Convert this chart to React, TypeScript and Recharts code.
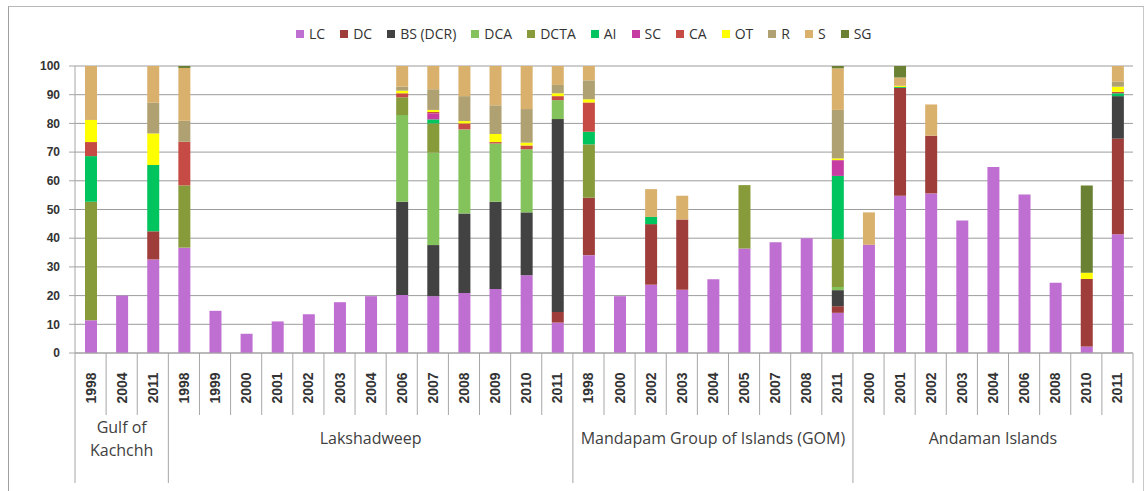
import React from 'react';
import { BarChart, Bar, XAxis, YAxis, CartesianGrid } from 'recharts';

const years = [
  '1998', '2004', '2011',
  '1998', '1999', '2000', '2001', '2002', '2003', '2004', '2006', '2007', '2008', '2009', '2010', '2011',
  '1998', '2000', '2002', '2003', '2004', '2005', '2007', '2008', '2011',
  '2000', '2001', '2002', '2003', '2004', '2006', '2008', '2010', '2011'
];

const groupNames = [['Gulf of', 'Kachchh'], ['Lakshadweep'], ['Mandapam Group of Islands (GOM)'], ['Andaman Islands']];
const groupSizes = [3, 13, 9, 9];

const LC = [11.4, 20, 32.6, 36.7, 14.7, 6.7, 11.0, 13.5, 17.7, 19.8, 20.2, 19.8, 20.9, 22.3, 27.1, 10.6, 34.1, 19.8, 23.8, 22, 25.7, 36.4, 38.6, 40, 14, 37.7, 54.8, 55.6, 46.2, 64.8, 55.2, 24.5, 2.3, 41.4];
const DC = [0, 0, 9.8, 0, 0, 0, 0, 0, 0, 0, 0, 0, 0, 0, 0, 3.7, 20, 0, 21.1, 24.5, 0, 0, 0, 0, 2.3, 0, 37.6, 20.1, 0, 0, 0, 0, 23.5, 33.3];
const BS = [0, 0, 0, 0, 0, 0, 0, 0, 0, 0, 32.5, 17.8, 27.7, 30.4, 21.9, 67.2, 0, 0, 0, 0, 0, 0, 0, 0, 5.6, 0, 0, 0, 0, 0, 0, 0, 0, 14.8];
const DCA = [0, 0, 0, 0, 0, 0, 0, 0, 0, 0, 30.2, 32.2, 29.3, 20.3, 22.0, 6.6, 0, 0, 0, 0, 0, 0, 0, 0, 1.1, 0, 0, 0, 0, 0, 0, 0, 0, 0];
const DCTA = [41.3, 0, 0, 21.7, 0, 0, 0, 0, 0, 0, 6.2, 10.2, 0, 0, 0, 0, 18.6, 0, 0, 0, 0, 22.1, 0, 0, 16.7, 0, 0, 0, 0, 0, 0, 0, 0, 0];
const AI = [15.9, 0, 23.1, 0, 0, 0, 0, 0, 0, 0, 0, 1.4, 0, 0, 0, 0, 4.4, 0, 2.5, 0, 0, 0, 0, 0, 22, 0, 0.3, 0, 0, 0, 0, 0, 0, 1.0];
const SC = [0, 0, 0, 0, 0, 0, 0, 0, 0, 0, 0, 2.1, 0, 0, 0, 0, 0, 0, 0, 0, 0, 0, 0, 0, 5.5, 0, 0, 0, 0, 0, 0, 0, 0, 0];
const CA = [4.9, 0, 0, 15.2, 0, 0, 0, 0, 0, 0, 1.4, 0.5, 2.1, 0.5, 1.3, 1.4, 10.2, 0, 0, 0, 0, 0, 0, 0, 0, 0, 0, 0, 0, 0, 0, 0, 0, 0.5];
const OT = [7.7, 0, 11, 0, 0, 0, 0, 0, 0, 0, 0.9, 0.7, 0.8, 2.8, 1.0, 1.0, 1.1, 0, 0, 0, 0, 0, 0, 0, 0.6, 0, 0.4, 0, 0, 0, 0, 0, 2.2, 1.8];
const R = [0, 0, 10.7, 7.3, 0, 0, 0, 0, 0, 0, 1.4, 7.2, 8.7, 10, 11.7, 2.9, 6.6, 0, 0, 0, 0, 0, 0, 0, 16.9, 0, 0, 0, 0, 0, 0, 0, 0, 1.7];
const S = [18.8, 0, 12.8, 18.4, 0, 0, 0, 0, 0, 0, 7.2, 8.1, 10.5, 13.7, 15, 6.6, 5, 0, 9.7, 8.3, 0, 0, 0, 0, 14.5, 11.3, 2.9, 10.9, 0, 0, 0, 0, 0, 5.5];
const SG = [0, 0, 0, 0.7, 0, 0, 0, 0, 0, 0, 0, 0, 0, 0, 0, 0, 0, 0, 0, 0, 0, 0, 0, 0, 0.8, 0, 4, 0, 0, 0, 0, 0, 30.4, 0];

const yTicks = [0, 10, 20, 30, 40, 50, 60, 70, 80, 90, 100];

const series = [
  { key: 'LC', name: 'LC', values: LC, color: '#BF6FD2' },
  { key: 'DC', name: 'DC', values: DC, color: '#9E3D39' },
  { key: 'BS', name: 'BS (DCR)', values: BS, color: '#424242' },
  { key: 'DCA', name: 'DCA', values: DCA, color: '#84C25C' },
  { key: 'DCTA', name: 'DCTA', values: DCTA, color: '#879B3B' },
  { key: 'AI', name: 'AI', values: AI, color: '#00C45E' },
  { key: 'SC', name: 'SC', values: SC, color: '#C63CA2' },
  { key: 'CA', name: 'CA', values: CA, color: '#C64B45' },
  { key: 'OT', name: 'OT', values: OT, color: '#FFFF00' },
  { key: 'R', name: 'R', values: R, color: '#B0A172' },
  { key: 'S', name: 'S', values: S, color: '#D9B16C' },
  { key: 'SG', name: 'SG', values: SG, color: '#6A8033' }
];

const data = years.map((year, i) => {
  const row: Record<string, number | string> = { id: String(i), year };
  series.forEach(s => { row[s.key] = s.values[i]; });
  return row;
});

// index of first category -> group number
const groupStart: Record<number, number> = {};
let acc = 0;
groupSizes.forEach((n, g) => { groupStart[acc] = g; acc += n; });

const W = 1146;
const H = 491;
const PLOT_LEFT = 75;
const PLOT_RIGHT = 1133;
const PLOT_TOP = 66;
const PLOT_BOTTOM = 353;
const BAND = (PLOT_RIGHT - PLOT_LEFT) / years.length;
const LINE = '#a6a6a6';

const XTick = (props: any) => {
  const { x, payload } = props;
  const i = Number(payload?.value ?? 0);
  const y0 = PLOT_BOTTOM;
  const left = x - BAND / 2;
  const isStart = groupStart[i] !== undefined;
  const isLast = i === years.length - 1;
  let label = null;
  if (isStart) {
    const g = groupStart[i];
    const cx = left + (groupSizes[g] * BAND) / 2;
    const lines = groupNames[g];
    label = (
      <text x={cx} y={lines.length > 1 ? 433 : 444} textAnchor="middle" fontFamily="Open Sans" fontSize={16} fill="#404040">
        {lines.map((t, k) => (
          <tspan key={k} x={cx} dy={k === 0 ? 0 : 23}>{t}</tspan>
        ))}
      </text>
    );
  }
  return (
    <g>
      <line x1={left} x2={left} y1={y0} y2={isStart ? 483 : 415} stroke={LINE} strokeWidth={1} />
      {isLast && <line x1={left + BAND} x2={left + BAND} y1={y0} y2={483} stroke={LINE} strokeWidth={1} />}
      <text
        x={x}
        y={388}
        transform={`rotate(-90 ${x} 388)`}
        textAnchor="middle"
        dominantBaseline="central"
        fontFamily="Liberation Sans"
        fontWeight="bold"
        fontSize={14}
        fill="#333"
      >
        {years[i]}
      </text>
      {label}
    </g>
  );
};

export default function App() {
  return (
    <div style={{ position: 'absolute', left: 0, top: 0, width: W, height: H, background: '#fff' }}>
      <div style={{ position: 'absolute', left: 8, top: 6, width: 1134, height: 490, borderLeft: '1px solid #a0a0a0', borderTop: '1px solid #b8b8b8', borderRight: '1px solid #c8c8c8' }} />
      <div style={{ position: 'absolute', left: 296, top: 24, display: 'flex', alignItems: 'center', fontFamily: 'Open Sans', fontSize: 14, color: '#333', whiteSpace: 'nowrap' }}>
        {series.map(s => (
          <div key={s.key} style={{ display: 'flex', alignItems: 'center', marginRight: 15 }}>
            <span style={{ width: 8, height: 8, background: s.color, display: 'inline-block', marginRight: 5 }} />
            <span>{s.name}</span>
          </div>
        ))}
      </div>
      <BarChart
        width={W}
        height={H}
        data={data}
        margin={{ top: PLOT_TOP, right: W - PLOT_RIGHT, left: 0, bottom: 0 }}
        barSize={12}
        style={{ position: 'absolute', left: 0, top: 0 }}
      >
        <CartesianGrid vertical={false} stroke="#9c9c9c" />
        <XAxis
          dataKey="id"
          type="category"
          interval={0}
          height={H - PLOT_BOTTOM}
          tickLine={false}
          tickSize={0}
          tickMargin={0}
          axisLine={{ stroke: LINE }}
          tick={XTick}
        />
        <YAxis
          width={PLOT_LEFT}
          domain={[0, 100]}
          ticks={yTicks}
          interval={0}
          allowDataOverflow
          axisLine={{ stroke: LINE }}
          tickLine={{ stroke: LINE }}
          tickSize={6}
          tickMargin={9}
          tick={{ fontFamily: 'Liberation Sans', fontWeight: 'bold', fontSize: 12, fill: '#333' }}
        />
        {series.map(s => (
          <Bar key={s.key} dataKey={s.key} name={s.name} stackId="a" fill={s.color} isAnimationActive={false} />
        ))}
      </BarChart>
    </div>
  );
}
